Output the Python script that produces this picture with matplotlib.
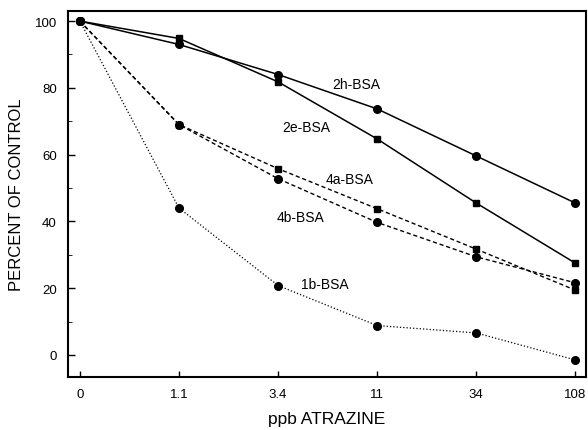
import numpy as np
import matplotlib.pyplot as plt
from matplotlib.ticker import MultipleLocator

plt.rcParams['font.family'] = ['Liberation Sans', 'DejaVu Sans']

# dados
doses = ['0', '1.1', '3.4', '11', '34', '108']
s_2h = [100, 93, 84, 73.7, 59.6, 45.5]
s_2e = [100, 94.8, 81.8, 64.7, 45.5, 27.5]
s_4a = [100, 69, 55.8, 43.8, 31.7, 19.4]
s_4b = [100, 69, 52.8, 39.7, 29.4, 21.6]
s_1b = [100, 44, 20.8, 8.8, 6.6, -1.5]

x = np.arange(len(doses))

fig = plt.figure(figsize=(5.88, 4.31), dpi=100)
ax = fig.add_axes([0.1156, 0.123, 0.8814, 0.849])

ax.plot(x, s_2h, '-', color='black', lw=1.1, marker='o', ms=5.5)
ax.plot(x, s_2e, '-', color='black', lw=1.1, marker='s', ms=5)
ax.plot(x, s_4a, '--', color='black', lw=1.0, marker='s', ms=5, dashes=(3, 2))
ax.plot(x, s_4b, '--', color='black', lw=1.0, marker='o', ms=5.5, dashes=(3, 2))
ax.plot(x, s_1b, ':', color='black', lw=0.9, marker='o', ms=5.5)

# rótulos das curvas
ax.text(2.79, 81.1, '2h-BSA', ha='center', va='center', fontsize=10)
ax.text(2.28, 68.3, '2e-BSA', ha='center', va='center', fontsize=10)
ax.text(2.72, 52.7, '4a-BSA', ha='center', va='center', fontsize=10)
ax.text(2.23, 41.3, '4b-BSA', ha='center', va='center', fontsize=10)
ax.text(2.47, 21.3, '1b-BSA', ha='center', va='center', fontsize=10)

ax.set_xlim(-0.12, 5.11)
ax.set_ylim(-6.6, 103)
ax.set_xticks(x)
ax.set_xticklabels(doses)
ax.yaxis.set_major_locator(MultipleLocator(20))
ax.yaxis.set_minor_locator(MultipleLocator(10))
ax.tick_params(direction='in', labelsize=9.5, width=1, length=5)
ax.tick_params(axis='y', which='minor', direction='in', length=3)
ax.tick_params(axis='x', length=4, pad=8)
ax.tick_params(axis='y', pad=8)

for sp in ax.spines.values():
    sp.set_linewidth(1.5)

ax.set_xlabel('ppb ATRAZINE', fontsize=12.5, labelpad=8)
ax.set_ylabel('PERCENT OF CONTROL', fontsize=12, labelpad=8)

plt.savefig('out.png', dpi=100)
